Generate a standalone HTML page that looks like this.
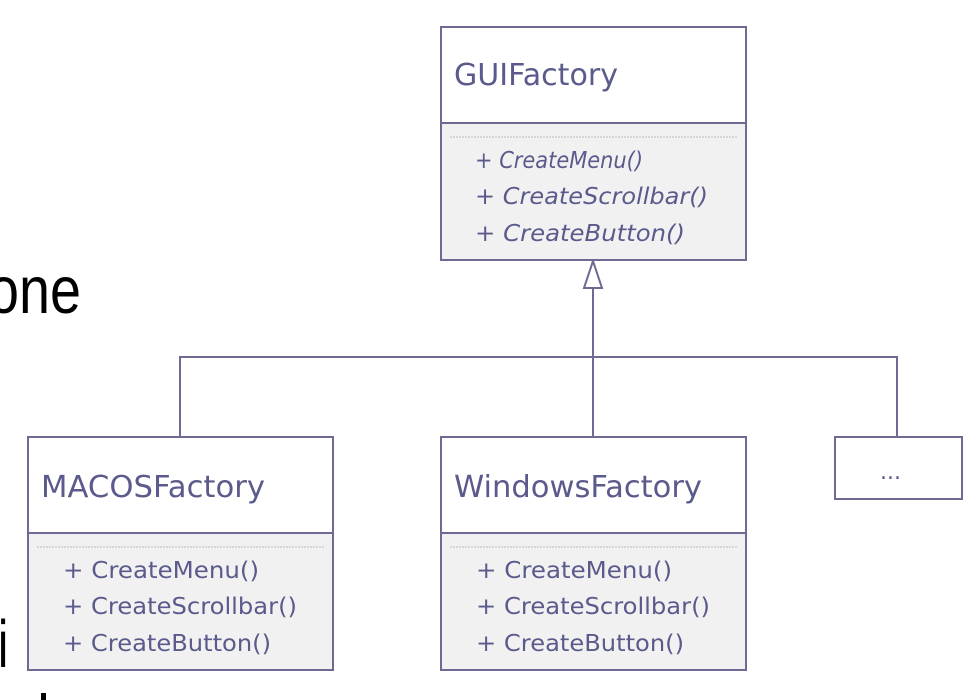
<!DOCTYPE html>
<html><head><style>
body{margin:0;width:977px;height:700px;background:#fff;overflow:hidden;position:relative}
</style></head><body>
<svg width="977" height="700" style="position:absolute;left:0;top:0" font-family="DejaVu Sans, Liberation Sans, sans-serif">
<g font-family="Liberation Sans, sans-serif" fill="#000">
<text transform="translate(-12,313) scale(1,1.45)" font-size="46" textLength="93" lengthAdjust="spacingAndGlyphs">one</text>
<text transform="translate(-2,667) scale(1,1.45)" font-size="46">i</text>
<rect x="41" y="693" width="5" height="7"/>
</g>
<g stroke="#6e6a93" stroke-width="2" fill="none">
<polyline points="180,437 180,357 897,357 897,437"/>
<line x1="593" y1="288" x2="593" y2="437"/>
</g>
<polygon points="593,261 584,288 602,288" fill="#fff" stroke="#6e6a93" stroke-width="2"/>
<g stroke="#6e6a93" stroke-width="2">
<rect x="441" y="27" width="305" height="96" fill="#fff"/>
<rect x="441" y="123" width="305" height="137" fill="#f1f1f1"/>
<rect x="28" y="437" width="305" height="96" fill="#fff"/>
<rect x="28" y="533" width="305" height="137" fill="#f1f1f1"/>
<rect x="441" y="437" width="305" height="96" fill="#fff"/>
<rect x="441" y="533" width="305" height="137" fill="#f1f1f1"/>
<rect x="835" y="437" width="127" height="62" fill="#fff"/>
</g>
<g stroke="#bbb" stroke-width="1" stroke-dasharray="2,1">
<line x1="450" y1="137" x2="737" y2="137"/>
<line x1="37" y1="547" x2="324" y2="547"/>
<line x1="450" y1="547" x2="737" y2="547"/>
</g>
<g fill="#5a5a8c" font-size="30">
<text x="454" y="85" textLength="164" lengthAdjust="spacingAndGlyphs">GUIFactory</text>
<text x="41" y="497" textLength="224" lengthAdjust="spacingAndGlyphs">MACOSFactory</text>
<text x="454" y="497" textLength="248" lengthAdjust="spacingAndGlyphs">WindowsFactory</text>
</g>
<text x="880" y="479" fill="#5a5a8c" font-size="22">...</text>
<g fill="#5a5a8c" font-size="23" font-style="italic">
<text x="475" y="168" textLength="168" lengthAdjust="spacingAndGlyphs">+ CreateMenu()</text>
<text x="475" y="204" textLength="233" lengthAdjust="spacingAndGlyphs">+ CreateScrollbar()</text>
<text x="475" y="241" textLength="210" lengthAdjust="spacingAndGlyphs">+ CreateButton()</text>
</g>
<g fill="#5a5a8c" font-size="23">
<text x="63" y="578" textLength="196" lengthAdjust="spacingAndGlyphs">+ CreateMenu()</text>
<text x="63" y="614" textLength="234" lengthAdjust="spacingAndGlyphs">+ CreateScrollbar()</text>
<text x="63" y="651" textLength="208" lengthAdjust="spacingAndGlyphs">+ CreateButton()</text>
<text x="476" y="578" textLength="196" lengthAdjust="spacingAndGlyphs">+ CreateMenu()</text>
<text x="476" y="614" textLength="234" lengthAdjust="spacingAndGlyphs">+ CreateScrollbar()</text>
<text x="476" y="651" textLength="208" lengthAdjust="spacingAndGlyphs">+ CreateButton()</text>
</g>
</svg>
</body></html>
